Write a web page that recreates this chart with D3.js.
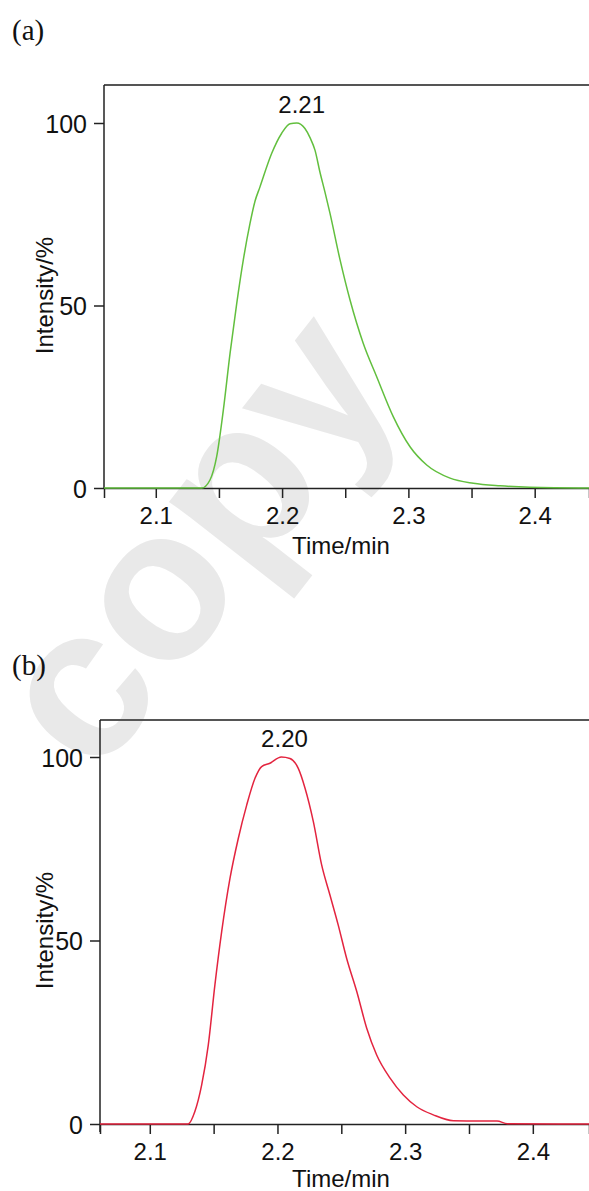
<!DOCTYPE html>
<html>
<head>
<meta charset="utf-8">
<script src="https://cdn.jsdelivr.net/npm/d3@7"></script>
<style>
  body { margin: 0; background: #fff; }
  svg { display: block; }
  .tick text { font-family: "Liberation Sans", Arial, sans-serif; font-size: 24px; fill: #111; }
</style>
</head>
<body>
<script>
// Width and height
var w = 589;
var h = 1191;

// panel (a) - green trace
var timeA = [2.059, 2.100, 2.1364, 2.1429, 2.1482, 2.1535, 2.1588, 2.1641, 2.1693, 2.1746, 2.1785, 2.1825, 2.1918, 2.1997, 2.2063, 2.2116, 2.2181, 2.2221, 2.2261, 2.2300, 2.2340, 2.2379, 2.2459, 2.2538, 2.2643, 2.2749, 2.2881, 2.3013, 2.3145, 2.3330, 2.3514, 2.3725, 2.396, 2.443];
var intensityA = [0, 0, 0, 2.2, 8.6, 21.4, 36.9, 50.6, 62.5, 72.5, 78.5, 82.5, 91.7, 97.2, 99.8, 100, 98.5, 96.0, 92.5, 86.5, 81.0, 75.3, 62.5, 51.5, 39.6, 30.5, 19.5, 11.3, 6.3, 2.7, 1.3, 0.6, 0.2, 0];

// panel (b) - red trace
var timeB = [2.061, 2.100, 2.1301, 2.1353, 2.1406, 2.1458, 2.1510, 2.1563, 2.1628, 2.1693, 2.1759, 2.1824, 2.1876, 2.1941, 2.2030, 2.2098, 2.2163, 2.2216, 2.2281, 2.2346, 2.2411, 2.2476, 2.2542, 2.2621, 2.2699, 2.2777, 2.2882, 2.2986, 2.3091, 2.3221, 2.3378, 2.3587, 2.372, 2.380, 2.444];
var intensityB = [0, 0, 0, 3.4, 10.6, 21.5, 37.9, 52.4, 66.9, 77.8, 86.9, 94.2, 97.4, 98.3, 100, 99.6, 96.9, 91.5, 82.4, 70.6, 62.4, 54.2, 45.1, 36.1, 26.1, 18.8, 12.5, 7.9, 4.7, 2.5, 0.9, 0.8, 0.8, 0.1, 0];

// ticks and labels
var xMajorTicks = [2.1, 2.2, 2.3, 2.4];
var xMinorTicks = [2.15, 2.25, 2.35];
var yTicks = [0, 50, 100];
var panelNames = ["(a)", "(b)"];
var peakTimes = [2.21, 2.20];
var peakLabels = ["2.21", "2.20"];
var xTitle = "Time/min";
var yTitle = "Intensity/%";

var svg = d3.select("body")
            .append("svg")
            .attr("width", w)
            .attr("height", h);

// faint watermark behind everything
svg.append("text")
   .attr("transform", "translate(205,548) rotate(-52)")
   .attr("text-anchor", "middle")
   .attr("dominant-baseline", "middle")
   .style("font-family", "'Liberation Sans', Arial, sans-serif")
   .style("font-weight", "bold")
   .style("font-size", "215px")
   .attr("fill", "#e9e9e9")
   .text("copy");

// layout of the two panels
var panels = [
  { name: panelNames[0], time: timeA, values: intensityA, color: "#62bf3e",
    domain: [2.059, 2.443], left: 104, top: 85, y0: 488, y100: 123, labelY: 40, titleY: 554, peak: 0, axisExtra: 0 },
  { name: panelNames[1], time: timeB, values: intensityB, color: "#e3243f",
    domain: [2.061, 2.444], left: 100, top: 720, y0: 1124, y100: 757, labelY: 675, titleY: 1187, peak: 1, axisExtra: 8 }
];

panels.forEach(function(p) {
    var xScale = d3.scaleLinear().domain(p.domain).range([p.left, w]);
    var yScale = d3.scaleLinear().domain([0, 100]).range([p.y0, p.y100]);

    var g = svg.append("g");

    // panel letter
    g.append("text")
     .attr("x", 12)
     .attr("y", p.labelY)
     .style("font-family", "'Liberation Serif', 'Times New Roman', serif")
     .style("font-size", "29px")
     .attr("fill", "#111")
     .text(p.name);

    // top border of the frame
    g.append("line")
     .attr("x1", p.left).attr("x2", w + 5)
     .attr("y1", p.top).attr("y2", p.top)
     .attr("stroke", "#555")
     .attr("stroke-width", 2);

    // left axis line (full height up to the frame)
    g.append("line")
     .attr("x1", p.left).attr("x2", p.left)
     .attr("y1", p.top).attr("y2", p.y0 + p.axisExtra)
     .attr("stroke", "#222")
     .attr("stroke-width", 1.5);

    // y axis ticks
    var yAxis = d3.axisLeft(yScale)
        .tickValues(yTicks)
        .tickSize(10)
        .tickPadding(7)
        .tickFormat(d3.format("d"));
    var ya = g.append("g")
     .attr("transform", "translate(" + p.left + ",0)")
     .call(yAxis);
    ya.select(".domain").remove();
    ya.selectAll(".tick line").attr("stroke", "#222").attr("stroke-width", 1.5);
    ya.selectAll(".tick text").attr("dy", "0.36em").style("font-size", "25px");

    // x axis, major ticks with labels
    var xAxis = d3.axisBottom(xScale)
        .tickValues(xMajorTicks)
        .tickSize(10)
        .tickPadding(9)
        .tickFormat(d3.format(".1f"));
    var xa = g.append("g")
     .attr("transform", "translate(0," + p.y0 + ")")
     .call(xAxis);
    xa.select(".domain").attr("stroke", "#222").attr("stroke-width", 1.5);
    xa.selectAll(".tick line").attr("stroke", "#222").attr("stroke-width", 1.5);

    // minor ticks
    var xMinor = d3.axisBottom(xScale)
        .tickValues(xMinorTicks)
        .tickSize(10)
        .tickFormat("");
    var xm = g.append("g")
     .attr("transform", "translate(0," + p.y0 + ")")
     .call(xMinor);
    xm.select(".domain").remove();
    xm.selectAll(".tick line").attr("stroke", "#222").attr("stroke-width", 1.5);

    // axis titles
    g.append("text")
     .attr("x", 341)
     .attr("y", p.titleY)
     .attr("text-anchor", "middle")
     .style("font-family", "'Liberation Sans', Arial, sans-serif")
     .style("font-size", "24px")
     .attr("fill", "#111")
     .text(xTitle);

    g.append("text")
     .attr("transform", "translate(53," + ((p.y0 + p.y100) / 2 - 10) + ") rotate(-90)")
     .attr("text-anchor", "middle")
     .style("font-family", "'Liberation Sans', Arial, sans-serif")
     .style("font-size", "24px")
     .attr("fill", "#111")
     .text(yTitle);

    // the trace
    var pts = p.time.map(function(t, i) { return [t, p.values[i]]; });
    var line = d3.line()
        .x(function(d) { return xScale(d[0]); })
        .y(function(d) { return yScale(d[1]); })
        .curve(d3.curveMonotoneX);
    g.append("path")
     .datum(pts)
     .attr("d", line)
     .attr("fill", "none")
     .attr("stroke", p.color)
     .attr("stroke-width", 1.5);

    // peak label
    g.append("text")
     .attr("x", xScale(peakTimes[p.peak]) + 7)
     .attr("y", yScale(100) - 10)
     .attr("text-anchor", "middle")
     .style("font-family", "'Liberation Sans', Arial, sans-serif")
     .style("font-size", "24px")
     .attr("fill", "#111")
     .text(peakLabels[p.peak]);
});
</script>
</body>
</html>
